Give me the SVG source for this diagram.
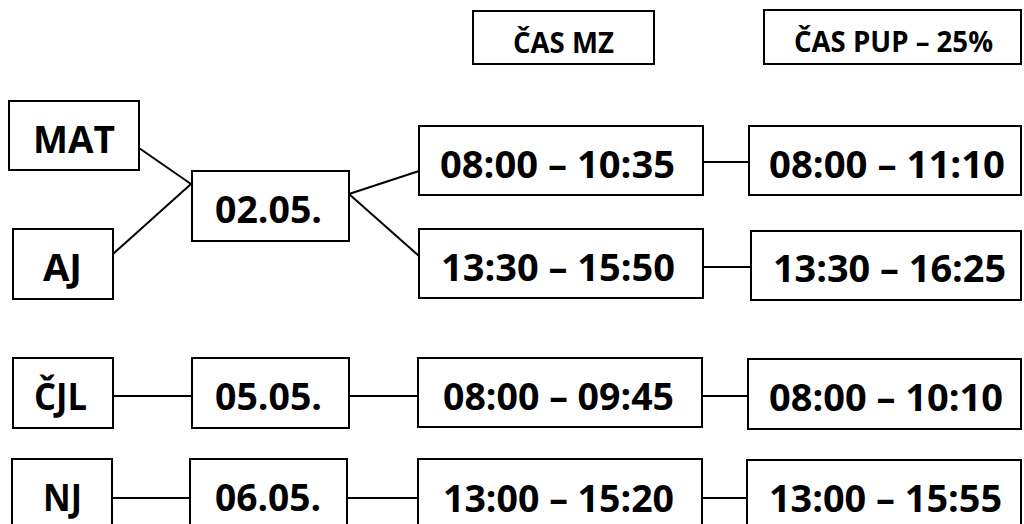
<svg xmlns="http://www.w3.org/2000/svg" width="1024" height="524" viewBox="0 0 1024 524">
<style>
.n{fill:#fff;stroke:#000;stroke-width:2}
line{stroke:#000;stroke-width:2}
text{font-family:"Open Sans","Liberation Sans",sans-serif;font-weight:700;fill:#000;text-anchor:middle}
.b{font-size:38px}
.h{font-size:29px}
</style>
<rect width="1024" height="524" fill="#fff"/>
<g id="connectors">
<line x1="139" y1="148" x2="191" y2="184"/>
<line x1="113" y1="254" x2="191" y2="184"/>
<line x1="349" y1="194" x2="419" y2="171"/>
<line x1="349" y1="194" x2="419" y2="256"/>
<line x1="703" y1="162" x2="749" y2="162"/>
<line x1="703" y1="267" x2="751" y2="267"/>
<line x1="111" y1="396" x2="192" y2="396"/>
<line x1="349" y1="396" x2="418" y2="396"/>
<line x1="702" y1="396" x2="748" y2="396"/>
<line x1="111" y1="498" x2="190" y2="498"/>
<line x1="347" y1="498" x2="418" y2="498"/>
<line x1="702" y1="498" x2="747" y2="498"/>
</g>
<g id="hdr-mz"><rect class="n" x="473" y="11" width="181" height="53"/><text class="h" x="563.5" y="53" textLength="101" lengthAdjust="spacingAndGlyphs">ČAS MZ</text></g>
<g id="hdr-pup"><rect class="n" x="764" y="10" width="257" height="54"/><text class="h" x="893.5" y="52" textLength="199" lengthAdjust="spacingAndGlyphs">ČAS PUP – 25%</text></g>
<g id="mat"><rect class="n" x="9" y="101" width="130" height="69"/><text class="b" x="74" y="153" textLength="82" lengthAdjust="spacingAndGlyphs">MAT</text></g>
<g id="aj"><rect class="n" x="13" y="229" width="100" height="70"/><text class="b" x="62.5" y="281" textLength="39" lengthAdjust="spacingAndGlyphs">AJ</text></g>
<g id="d0205"><rect class="n" x="192" y="171" width="157" height="70"/><text class="b" x="268.5" y="223" textLength="107" lengthAdjust="spacingAndGlyphs">02.05.</text></g>
<g id="t1"><rect class="n" x="419" y="126" width="284" height="69"/><text class="b" x="557.5" y="178" textLength="235" lengthAdjust="spacingAndGlyphs">08:00 – 10:35</text></g>
<g id="t2"><rect class="n" x="419" y="229" width="284" height="69"/><text class="b" x="558" y="281" textLength="234" lengthAdjust="spacingAndGlyphs">13:30 – 15:50</text></g>
<g id="p1"><rect class="n" x="749" y="126" width="272" height="69"/><text class="b" x="887" y="178" textLength="236" lengthAdjust="spacingAndGlyphs">08:00 – 11:10</text></g>
<g id="p2"><rect class="n" x="751" y="231" width="270" height="69"/><text class="b" x="889.5" y="282" textLength="233" lengthAdjust="spacingAndGlyphs">13:30 – 16:25</text></g>
<g id="cjl"><rect class="n" x="13" y="358" width="100" height="70"/><text class="b" x="60.5" y="410" textLength="53" lengthAdjust="spacingAndGlyphs">ČJL</text></g>
<g id="d0505"><rect class="n" x="192" y="358" width="157" height="70"/><text class="b" x="268.5" y="410" textLength="107" lengthAdjust="spacingAndGlyphs">05.05.</text></g>
<g id="t3"><rect class="n" x="418" y="358" width="284" height="69"/><text class="b" x="558.5" y="410" textLength="231" lengthAdjust="spacingAndGlyphs">08:00 – 09:45</text></g>
<g id="p3"><rect class="n" x="748" y="359" width="273" height="70"/><text class="b" x="886" y="411" textLength="234" lengthAdjust="spacingAndGlyphs">08:00 – 10:10</text></g>
<g id="nj"><rect class="n" x="12" y="459" width="100" height="70"/><text class="b" x="62.5" y="511" textLength="39" lengthAdjust="spacingAndGlyphs">NJ</text></g>
<g id="d0605"><rect class="n" x="190" y="459" width="157" height="70"/><text class="b" x="268" y="511" textLength="106" lengthAdjust="spacingAndGlyphs">06.05.</text></g>
<g id="t4"><rect class="n" x="418" y="459" width="284" height="70"/><text class="b" x="558.5" y="512" textLength="231" lengthAdjust="spacingAndGlyphs">13:00 – 15:20</text></g>
<g id="p4"><rect class="n" x="747" y="460" width="274" height="70"/><text class="b" x="885.5" y="512" textLength="233" lengthAdjust="spacingAndGlyphs">13:00 – 15:55</text></g>
</svg>
